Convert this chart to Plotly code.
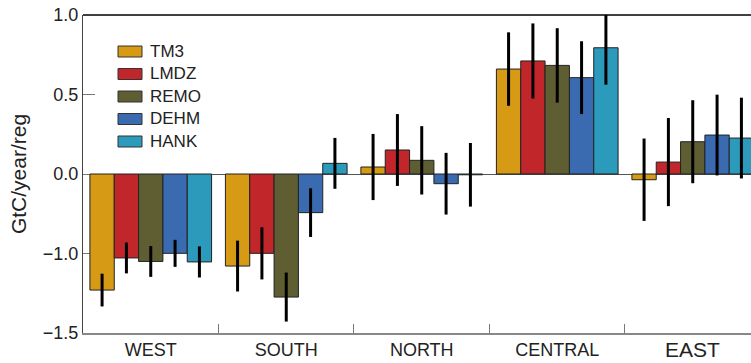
import plotly.graph_objects as go

regions = ["WEST", "SOUTH", "NORTH", "CENTRAL", "EAST"]
region_labels = ["WEST", "SOUTH", "NORTH", "CENTRAL", ""]
big_region = "EAST"

models = ["TM3", "LMDZ", "REMO", "DEHM", "HANK"]
colors = ["#D69A14", "#C0262A", "#5E5E32", "#3A6AAF", "#2B9ABB"]

# values in plot (linear) units; the axis labels below zero are as printed in the original
tm3 = [-0.730, -0.579, 0.044, 0.660, -0.036]
lmdz = [-0.528, -0.499, 0.151, 0.711, 0.075]
remo = [-0.550, -0.774, 0.086, 0.683, 0.203]
dehm = [-0.499, -0.243, -0.061, 0.606, 0.245]
hank = [-0.553, 0.067, -0.005, 0.794, 0.226]

tm3_err = [0.103, 0.160, 0.208, 0.231, 0.259]
lmdz_err = [0.097, 0.164, 0.226, 0.236, 0.277]
remo_err = [0.097, 0.154, 0.215, 0.234, 0.261]
dehm_err = [0.085, 0.153, 0.194, 0.229, 0.254]
hank_err = [0.098, 0.160, 0.200, 0.232, 0.254]

series = [tm3, lmdz, remo, dehm, hank]
errors = [tm3_err, lmdz_err, remo_err, dehm_err, hank_err]

ytick_vals = [1.0, 0.5, 0.0, -0.5, -1.0]
ytick_text = ["1.0", "0.5", "0.0", "\u22121.0", "\u22121.5"]

FONT = "Liberation Sans, Arial, Helvetica, sans-serif"
XRANGE = [-0.5, 4.43]

W, H = 751, 363
ML, MR, MT, MB = 83, 0, 15, 30
PW, PH = W - ML - MR, H - MT - MB

fig = go.Figure()
for name, vals, err, col in zip(models, series, errors, colors):
    fig.add_trace(go.Bar(
        x=regions, y=vals, name=name, showlegend=False,
        marker=dict(color=col, line=dict(color="#222222", width=1)),
        error_y=dict(type="data", array=err, visible=True, color="black",
                     thickness=3, width=0),
    ))

# legend drawn as layout shapes + text (paper coordinates)
def px_x(p):
    return (p - ML) / PW

def px_y(p):
    return 1 - (p - MT) / PH

shapes = [dict(type="line", xref="paper", yref="paper", x0=0, x1=1, y0=1, y1=1,
               line=dict(color="black", width=1.5))]
annotations = [dict(x=big_region, xref="x", y=0, yref="paper", yanchor="top",
                    yshift=-3, showarrow=False, text=big_region,
                    font=dict(size=21, family=FONT, color="#222222"))]
LEG_Y0, LEG_STEP = 51.5, 22.5
for i, (name, col) in enumerate(zip(models, colors)):
    cy = LEG_Y0 + i * LEG_STEP
    shapes.append(dict(type="rect", xref="paper", yref="paper",
                       x0=px_x(118), x1=px_x(142), y0=px_y(cy + 5.5), y1=px_y(cy - 5.5),
                       fillcolor=col, line=dict(color="#333333", width=1)))
    annotations.append(dict(x=px_x(148), y=px_y(cy), xref="paper", yref="paper",
                            xanchor="left", yanchor="middle", showarrow=False,
                            text=name, font=dict(size=17, family=FONT, color="#222222")))

fig.update_layout(
    width=W, height=H,
    margin=dict(l=ML, r=MR, t=MT, b=MB),
    paper_bgcolor="white", plot_bgcolor="white",
    barmode="group", bargap=0.102, bargroupgap=0,
    font=dict(family=FONT, color="#222222"),
    showlegend=False,
    shapes=shapes,
    annotations=annotations,
)

fig.update_xaxes(
    type="category", categoryorder="array", categoryarray=regions,
    range=XRANGE,
    tickmode="array", tickvals=regions, ticktext=region_labels,
    tickson="boundaries", ticks="inside", ticklen=9, tickwidth=1.2, tickcolor="#777777",
    showline=True, linecolor="#888888", linewidth=1.5,
    showgrid=False, zeroline=False,
    tickfont=dict(size=18, family=FONT, color="#222222"),
)

fig.update_yaxes(
    range=[-1.0, 1.0],
    tickmode="array", tickvals=ytick_vals, ticktext=ytick_text,
    ticks="inside", ticklen=12, tickcolor="#777777", tickwidth=1,
    showline=True, linecolor="#444444", linewidth=1.2,
    showgrid=False,
    zeroline=True, zerolinecolor="#555555", zerolinewidth=1,
    layer="below traces",
    tickfont=dict(size=18, family=FONT, color="#222222"),
    title=dict(text="GtC/year/reg", font=dict(size=21, family=FONT, color="#222222"),
               standoff=10),
)

fig.write_html("out.html", config={"displayModeBar": False},
               post_script="document.body.style.margin='0';document.body.style.padding='0';")
